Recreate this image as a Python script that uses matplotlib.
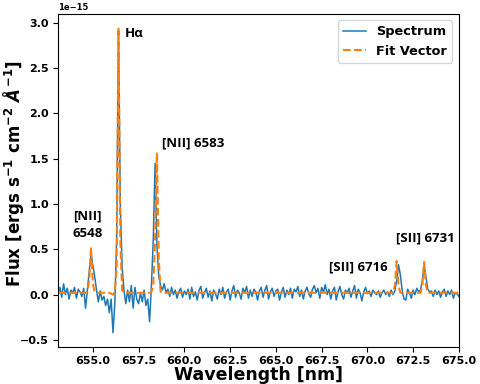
import matplotlib

matplotlib.use("Agg")

import matplotlib.pyplot as plt
import numpy as np

# wavelength grid, 0.1 nm steps from 653.1 to 675.0 nm
wavelength = np.round(np.arange(653.1, 675.05, 0.1), 1)

# observed spectrum, in units of 1e-15 erg s^-1 cm^-2 A^-1
spectrum = [
    0.02, 0.08, -0.03, 0.12, 0.00, 0.07, -0.05, 0.05, 0.02, 0.08,      # 653.1-654.0
    -0.04, 0.06, 0.03, -0.02, 0.07, -0.15, 0.05, 0.25, 0.45, 0.32,     # 654.1-655.0
    0.20, 0.05, -0.08, 0.04, -0.06, -0.02, -0.12, -0.05, -0.20, -0.05,  # 655.1-656.0
    -0.42, -0.10, 0.60, 2.90, 1.00, 0.30, 0.05, -0.10, 0.05, -0.08,    # 656.1-657.0
    0.10, -0.15, 0.08, -0.05, -0.10, 0.02, -0.08, 0.05, -0.12, -0.05,  # 657.1-658.0
    -0.30, 0.10, 0.60, 1.45, 0.55, 0.20, 0.10, 0.05, 0.12, 0.02,       # 658.1-659.0
    0.06, -0.02, 0.08, 0.00, 0.05, -0.04, 0.03, 0.07, -0.03, 0.04,     # 659.1-660.0
    0.00, 0.06, -0.05, 0.08, -0.02, 0.03, -0.06, 0.05, 0.09, -0.04,    # 660.1-661.0
    0.02, 0.07, -0.03, 0.04, -0.07, 0.05, 0.01, -0.05, 0.06, 0.00,     # 661.1-662.0
    0.08, -0.04, 0.03, 0.06, -0.06, 0.04, 0.10, -0.03, 0.05, 0.02,     # 662.1-663.0
    -0.05, 0.07, 0.02, 0.09, -0.04, 0.05, -0.02, 0.06, 0.03, -0.06,    # 663.1-664.0
    0.04, 0.08, -0.03, 0.05, 0.10, -0.05, 0.03, 0.07, -0.02, 0.04,     # 664.1-665.0
    0.06, -0.06, 0.02, 0.08, -0.03, 0.05, 0.00, 0.07, -0.04, 0.06,     # 665.1-666.0
    0.03, 0.09, -0.02, 0.05, -0.05, 0.04, 0.08, 0.01, -0.03, 0.06,     # 666.1-667.0
    0.10, 0.02, 0.07, -0.04, 0.08, 0.03, 0.11, 0.00, 0.06, -0.05,      # 667.1-668.0
    0.04, 0.08, -0.06, 0.03, 0.09, 0.00, -0.05, 0.05, 0.02, 0.07,      # 668.1-669.0
    -0.03, 0.04, 0.10, -0.04, 0.06, 0.02, -0.07, 0.03, 0.08, 0.01,     # 669.1-670.0
    0.04, -0.02, 0.05, 0.02, 0.00, 0.04, -0.03, 0.02, 0.05, 0.00,      # 670.1-671.0
    0.03, -0.02, 0.05, 0.00, 0.04, 0.15, 0.33, 0.22, 0.05, -0.05,      # 671.1-672.0
    -0.06, 0.06, 0.02, -0.04, 0.05, 0.00, 0.07, 0.03, 0.05, 0.15,      # 672.1-673.0
    0.32, 0.20, 0.06, 0.03, 0.04, -0.02, 0.05, 0.00, 0.04, -0.03,      # 673.1-674.0
    0.03, 0.06, -0.02, 0.04, 0.00, 0.05, -0.04, 0.02, 0.01, -0.02,     # 674.1-675.0
]

# fitted model, same units
fit_vector = [
    0.02, 0.02, 0.02, 0.02, 0.02, 0.02, 0.02, 0.02, 0.02, 0.02,   # 653.1-654.0
    0.02, 0.02, 0.02, 0.02, 0.02, 0.02, 0.03, 0.15, 0.52, 0.12,   # 654.1-655.0
    0.03, 0.02, 0.02, 0.02, 0.02, 0.02, 0.02, 0.02, 0.02, 0.01,   # 655.1-656.0
    0.00, 0.03, 0.30, 2.95, 0.60, 0.05, 0.02, 0.02, 0.02, 0.02,   # 656.1-657.0
    0.02, 0.02, 0.02, 0.02, 0.02, 0.02, 0.02, 0.02, 0.02, 0.02,   # 657.1-658.0
    0.02, 0.03, 0.10, 0.60, 1.57, 0.40, 0.03, 0.02, 0.02, 0.02,   # 658.1-659.0
    0.02, 0.02, 0.02, 0.02, 0.02, 0.02, 0.02, 0.02, 0.02, 0.02,   # 659.1-660.0
    0.02, 0.02, 0.02, 0.02, 0.02, 0.02, 0.02, 0.02, 0.02, 0.02,   # 660.1-661.0
    0.02, 0.02, 0.02, 0.02, 0.02, 0.02, 0.02, 0.02, 0.02, 0.02,   # 661.1-662.0
    0.02, 0.02, 0.02, 0.02, 0.02, 0.02, 0.02, 0.02, 0.02, 0.02,   # 662.1-663.0
    0.02, 0.02, 0.02, 0.02, 0.02, 0.02, 0.02, 0.02, 0.02, 0.02,   # 663.1-664.0
    0.02, 0.02, 0.02, 0.02, 0.02, 0.02, 0.02, 0.02, 0.02, 0.02,   # 664.1-665.0
    0.02, 0.02, 0.02, 0.02, 0.02, 0.02, 0.02, 0.02, 0.02, 0.02,   # 665.1-666.0
    0.02, 0.02, 0.02, 0.02, 0.02, 0.02, 0.02, 0.02, 0.02, 0.02,   # 666.1-667.0
    0.02, 0.02, 0.02, 0.02, 0.02, 0.02, 0.02, 0.02, 0.02, 0.02,   # 667.1-668.0
    0.02, 0.02, 0.02, 0.02, 0.02, 0.02, 0.02, 0.02, 0.02, 0.02,   # 668.1-669.0
    0.02, 0.02, 0.02, 0.02, 0.02, 0.02, 0.02, 0.02, 0.02, 0.02,   # 669.1-670.0
    0.02, 0.02, 0.02, 0.02, 0.02, 0.02, 0.02, 0.02, 0.02, 0.02,   # 670.1-671.0
    0.02, 0.02, 0.02, 0.02, 0.10, 0.37, 0.10, 0.02, 0.02, 0.02,   # 671.1-672.0
    0.02, 0.02, 0.02, 0.02, 0.02, 0.02, 0.02, 0.02, 0.02, 0.10,   # 672.1-673.0
    0.36, 0.10, 0.02, 0.02, 0.02, 0.02, 0.02, 0.02, 0.02, 0.02,   # 673.1-674.0
    0.02, 0.02, 0.02, 0.02, 0.02, 0.02, 0.02, 0.02, 0.02, 0.02,   # 674.1-675.0
]

# line labels: text, wavelength [nm], flux [1e-15]
line_labels = ["H\u03b1", "[NII] 6583", "[NII]\n6548", "[SII] 6716", "[SII] 6731"]
label_x = [656.75, 658.8, 653.9, 667.9, 671.55]
label_y = [2.88, 1.67, 0.77, 0.30, 0.63]

SCALE = 1e-15

plt.rcParams["font.weight"] = "bold"
plt.rcParams["axes.labelweight"] = "bold"

fig = plt.figure(figsize=(4.8, 3.84), dpi=100)
ax = fig.add_axes([0.121, 0.096, 0.835, 0.868])

ax.plot(wavelength, np.array(spectrum) * SCALE, color="#1f77b4", lw=1.1, label="Spectrum")
ax.plot(wavelength, np.array(fit_vector) * SCALE, color="#ff7f0e", lw=1.5, ls="--", label="Fit Vector")

for text, lx, ly in zip(line_labels, label_x, label_y):
    ax.text(lx, ly * SCALE, text, fontsize=9.5, fontweight="bold",
            family=["Open Sans", "DejaVu Sans"], ha="left", va="center", linespacing=1.5)

ax.set_xlim(653.1, 675.0)
ax.set_ylim(-0.58e-15, 3.1e-15)
ax.set_xticks([655.0, 657.5, 660.0, 662.5, 665.0, 667.5, 670.0, 672.5, 675.0])
ax.set_xlabel("Wavelength [nm]", fontsize=12.5)
ax.set_ylabel(r"Flux [ergs s$^{-1}$ cm$^{-2}$ $\AA^{-1}$]", fontsize=12)
ax.xaxis.set_label_coords(0.5, -0.056)
ax.yaxis.set_label_coords(-0.08, 0.52)
ax.tick_params(labelsize=8, pad=3)
ax.yaxis.get_offset_text().set_fontsize(6)

ax.legend(loc="upper right", fontsize=9.3, handlelength=1.8)

fig.savefig("out.png", dpi=100)
plt.close(fig)
